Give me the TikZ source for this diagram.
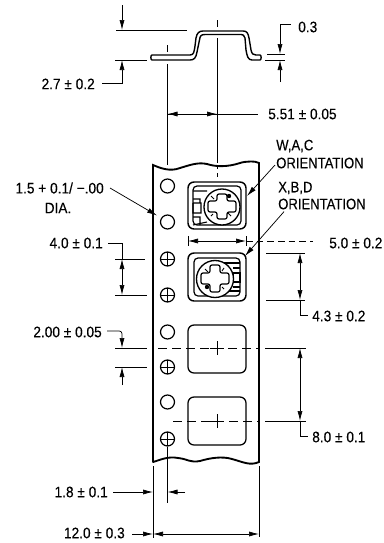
\documentclass[tikz,border=0pt]{standalone}
\usepackage{fontspec}
\setmainfont[FakeBold=0.2,FakeStretch=0.9]{Liberation Sans}
\newfontfamily\orientfont[FakeBold=0.2,FakeStretch=0.86]{Liberation Sans}
\usetikzlibrary{arrows.meta}
\tikzset{
  dim/.style={line width=0.55pt,draw=black},
  dimarrow/.style={dim,-{Latex[length=7.5pt,width=3.8pt]}},
  dimboth/.style={dim,{Latex[length=7.5pt,width=3.8pt]}-{Latex[length=7.5pt,width=3.8pt]}},
  tape/.style={line width=1.4pt,draw=black,line cap=round},
  hole/.style={line width=0.9pt,draw=black},
  pocket/.style={line width=0.95pt,draw=black,rounded corners=4.5pt},
  centre/.style={line width=0.7pt,draw=black,dash pattern=on 7pt off 3.5pt},
  lab/.style={inner sep=0pt,font=\fontsize{11.4}{13}\selectfont},
  labn/.style={inner sep=0pt,font=\orientfont\fontsize{11.4}{13}\selectfont,anchor=west},
}
\begin{document}
\begin{tikzpicture}[x=.75pt,y=-.75pt]
\useasboundingbox (0,0) rectangle (384,543);
% part profile
\draw[line width=1.05pt,line join=round] (152,55) -- (190,55)
  .. controls (194,55) and (194,52) .. (195,46) -- (196,38)
  .. controls (197,33) and (199,31) .. (203,31) -- (243,31)
  .. controls (247,31) and (248,33) .. (249,38) -- (251,50)
  .. controls (252,54) and (253,55) .. (256,55) -- (260,55)
  .. controls (261.5,55) and (261.5,60) .. (260,60) -- (252,60)
  .. controls (248,60) and (247,56) .. (246,50) -- (245,38)
  .. controls (244,35) and (243,34.5) .. (241,34.5) -- (205,34.5)
  .. controls (201,34.5) and (200,36) .. (199.5,40) -- (197,52)
  .. controls (196,58) and (194,60) .. (190,60) -- (152,60)
  .. controls (150.5,60) and (150.5,55) .. (152,55) -- cycle;
% top dimensions
\coordinate (hatTop) at (187,30);
\coordinate (hatBase) at (147,60);
\draw[dim] (116,30) -- (hatTop);
\draw[dim] (115,60) -- (hatBase);
\draw[dimarrow] (122,5) -- (122,30);
\node[lab,anchor=east] (t27) at (95,84) {2.7 ± 0.2};
\draw[dimarrow] (t27.east) ++(7,-1) -- (122,83) -- (122,60);
\node[lab,anchor=west] (t03) at (298,27) {0.3};
\draw[dimarrow] (t03.west) ++(-7,-3) -- (280,24) -- (280,54);
\draw[dim] (267,54.5) -- (285,54.5);
\draw[dim] (265,60) -- (285,60);
\draw[dimarrow] (280,82) -- (280,60);
% vertical lines and 5.51
\draw[dim] (167.5,45) -- (167.5,52);
\draw[dim] (167.5,64) -- (167.5,165);
\draw[dim] (217,20) -- (217,27);
\draw[dim] (217,38) -- (217,163);
\draw[dim,dashed] (217,165) -- (217,180);
\node[lab,anchor=west] (t551) at (268,114) {5.51 ± 0.05};
\draw[dim] (167.5,114) -- (258,114);
\draw[dimarrow] (190,114) -- (167.5,114);
\draw[dimarrow] (195,114) -- (217,114);
% tape
\draw[tape] (153,462) -- (153,165)
  .. controls (160,168) and (170,172) .. (180,168)
  .. controls (190,165) and (198,162) .. (207,164)
  .. controls (216,167) and (228,167) .. (240,163)
  .. controls (246,161) and (256,161) .. (259,163)
  -- (259,462)
  .. controls (250,466) and (243,462) .. (232,459)
  .. controls (222,456) and (210,458) .. (200,461)
  .. controls (190,463) and (188,459) .. (178,458)
  .. controls (168,456) and (160,460) .. (153,462);
% sprocket holes
\foreach \y in {186,222,332,402} \draw[hole] (167.5,\y) circle (7);
\foreach \y in {259,295,367,439} {
  \draw[hole] (167.5,\y) circle (7);
  \draw[dim] (160.5,\y) -- (174.5,\y) (167.5,\y-7) -- (167.5,\y+7);
}
% empty pockets
\draw[pocket] (188,325) rectangle (246,373);
\draw[pocket] (188,397) rectangle (246,445);
\draw[centre] (158,348) -- (258,348);
\draw[centre] (173,421) -- (258,421);
\foreach \y in {348,421} \draw[line width=.7pt] (217,\y-7) -- (217,\y+7) (210,\y) -- (224,\y);
% component pocket 1 (W,A,C)
\begin{scope}
\draw[pocket,line width=1.1pt] (188,182) rectangle (246,229);
\draw[line width=.9pt,rounded corners=3pt] (193,225) -- (193,186) -- (241,186) -- (241,225) -- cycle;
\draw[line width=.8pt] (193,191) -- (207,191) (193,199) -- (200,199) -- (200,203) -- (193,203) (193,203) -- (193,213) -- (201,213) -- (201,203) -- (193,203) (193,217) -- (200,217) -- (200,225) (193,225) -- (207,222);
\draw[line width=1pt,fill=white] (222,207) circle (18);
\draw[line width=.9pt,fill=white,rounded corners=1.5pt] (217,194) -- (227,194) -- (227,201) -- (236,201) -- (236,212) -- (227,212) -- (227,219) -- (217,219) -- (217,212) -- (208,212) -- (208,201) -- (217,201) -- cycle;
\fill (229,196) circle (2.2);
\draw[line width=.7pt] (211,196) -- (214,199) (231,216) -- (228,213) (211,216) -- (213,214);
\end{scope}
% component pocket 2 (X,B,D)
\begin{scope}
\draw[pocket,line width=1.1pt] (188,253) rectangle (246,301);
\draw[line width=.9pt,rounded corners=3pt] (240,296) -- (194,296) -- (194,258) -- (240,258) -- cycle;
\draw[line width=.8pt] (222,263) -- (240,263) (233,273) rectangle (240,282) (233,268) -- (240,268) (233,287) -- (240,287) (222,291) -- (240,291);
\draw[line width=1pt,fill=white] (215,279) circle (18.5);
\draw[line width=.9pt,fill=white,rounded corners=1.5pt] (210,265) -- (220,265) -- (220,273) -- (229,273) -- (229,284) -- (220,284) -- (220,292) -- (210,292) -- (210,284) -- (201,284) -- (201,273) -- (210,273) -- cycle;
\fill (207,287) circle (2.2);
\draw[line width=.7pt] (205,269) -- (208,272) (224,268) -- (222,271) (224,289) -- (222,287);
\end{scope}
% orientation labels and leaders
\node[labn] (twac) at (276,146) {W,A,C};
\node[labn] (owac) at (276,163) {ORIENTATION};
\node[labn] (txbd) at (278,188) {X,B,D};
\node[labn] (oxbd) at (278,204) {ORIENTATION};
\coordinate (pk1) at (247,196);
\coordinate (pk2) at (245,256);
\draw[dimarrow] (owac.west) ++(-1,2) -- (pk1);
\draw[dimarrow] (oxbd.south west) ++(6,2) -- (pk2);
% 1.5 label
\node[lab,anchor=east] (t15) at (104,188) {1.5 + 0.1/ −.00};
\node[lab] (tdia) at (58,208) {DIA.};
\draw[dimarrow] (110,188) -- (157,215.5);
% 4.0
\node[lab,anchor=east] (t40) at (103,243) {4.0 ± 0.1};
\draw[dim] (115,259) -- (145,259);
\draw[dim] (115,295) -- (147,295);
\draw[dim] (t40.east) ++(5,0) -- (122,243) -- (122,259);
\draw[dimboth] (122,259) -- (122,295);
% 2.00
\node[lab,anchor=east] (t200) at (102,332) {2.00 ± 0.05};
\draw[dim] (115,348) -- (147,348);
\draw[dim] (115,367) -- (147,367);
\draw[dimarrow,rounded corners=2pt] (t200.east) ++(5,-1) -- (122,331) -- (122,348);
\draw[dimarrow] (122,385) -- (122,367);
% 5.0
\node[lab,anchor=west] (t50) at (329,243) {5.0 ± 0.2};
\draw[dimboth] (188,241) -- (246,241);
\draw[dim,dash pattern=on 5pt off 3pt] (246,241) -- (313,241);
\draw[dim] (188,236) -- (188,246) (246,236) -- (246,246);
% 4.3
\node[lab,anchor=west] (t43) at (312,316) {4.3 ± 0.2};
\draw[dim] (266,253) -- (305,253);
\draw[dim] (266,300) -- (305,300);
\draw[dimboth] (300,253) -- (300,300);
\draw[dim] (300,300) -- (300,315) -- (308,315);
% 8.0
\node[lab,anchor=west] (t80) at (312,437) {8.0 ± 0.1};
\draw[dim] (265,348) -- (306,348);
\draw[dim] (265,421) -- (306,421);
\draw[dimboth] (300,348) -- (300,421);
\draw[dim] (300,421) -- (300,436) -- (308,436);
% bottom
\draw[dim] (153,466) -- (153,538);
\draw[dim] (167.5,447) -- (167.5,503);
\draw[dim] (259,466) -- (259,537);
\node[lab,anchor=east] (t18) at (108,492) {1.8 ± 0.1};
\draw[dimarrow] (t18.east) ++(5,0) -- (153,492);
\draw[dimarrow] (185,492) -- (167.5,492);
\node[lab,anchor=east] (t12) at (125,533) {12.0 ± 0.3};
\draw[dimarrow] (t12.east) ++(7,1) -- (153,534);
\draw[dimboth] (153,534) -- (259,534);
\end{tikzpicture}
\end{document}
